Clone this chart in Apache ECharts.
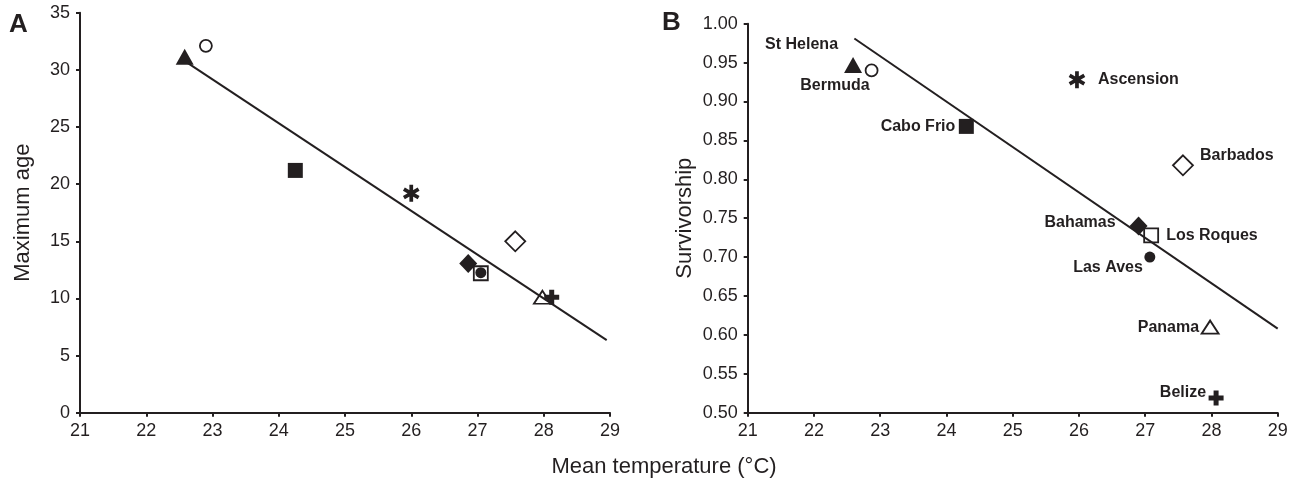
<!DOCTYPE html>
<html><head><meta charset="utf-8">
<script src="https://cdn.jsdelivr.net/npm/echarts@6/dist/echarts.min.js"></script>
<style>html,body{margin:0;padding:0;background:#fff}#c{width:1297px;height:483px}</style>
</head><body><div id="c"></div>
<script>
// ---- data ----
const islands = ['St Helena','Bermuda','Cabo Frio','Ascension','Barbados','Bahamas','Los Roques','Las Aves','Panama','Belize'];
const meanTempA = [22.58, 22.9, 24.25, 26.0, 27.57, 26.86, 27.05, 27.05, 27.98, 28.12];
const maxAge    = [31.15, 32.1, 21.2, 19.2, 15.0, 13.05, 12.2, 12.25, 10.1, 10.1];
const meanTempB = [22.59, 22.87, 24.3, 25.97, 27.57, 26.9, 27.09, 27.07, 27.98, 28.07];
const survivorship = [0.947, 0.94, 0.868, 0.928, 0.818, 0.74, 0.728, 0.70, 0.61, 0.519];
const fitAx = [22.6, 28.95], fitAy = [30.7, 6.35];
const fitBx = [22.61, 29.0], fitBy = [0.981, 0.608];
const xTicks = [21, 29, 1];
const yTicksA = [0, 35, 5];
const yTicksB = [0.5, 1.0, 0.05];

// ---- styles ----
const INK = '#231f20';
const ASTERISK = 'path://M7.8 0 L12.2 0 L12.2 20 L7.8 20 Z M17.56 3.095 L19.76 6.905 L2.44 16.905 L0.24 13.095 Z M19.76 13.095 L17.56 16.905 L0.24 6.905 L2.44 3.095 Z';
const PLUS = 'path://M4 0 L8 0 L8 4 L12 4 L12 8 L8 8 L8 12 L4 12 L4 8 L0 8 L0 4 L4 4 Z';
const markerStyle = {
  'St Helena': {symbol:'triangle', size:[18,16], open:false},
  'Bermuda':   {symbol:'circle', size:12, open:true},
  'Cabo Frio': {symbol:'rect', size:15, open:false},
  'Ascension': {symbol:ASTERISK, size:17, open:false},
  'Barbados':  {symbol:'diamond', size:[20,20], open:true},
  'Bahamas':   {symbol:'diamond', size:[18,19], open:false},
  'Los Roques':{symbol:'rect', size:14, open:true},
  'Las Aves':  {symbol:'circle', size:11, open:false},
  'Panama':    {symbol:'triangle', size:[17,13], open:true},
  'Belize':    {symbol:PLUS, size:15, open:false}
};
const labelPlace = {
  'St Helena': {align:'right', offset:[-15,-20]},
  'Bermuda':   {align:'right', offset:[-2,15]},
  'Cabo Frio': {align:'right', offset:[-11,0]},
  'Ascension': {align:'left',  offset:[21,0]},
  'Barbados':  {align:'left',  offset:[17,-10]},
  'Bahamas':   {align:'right', offset:[-23,-3]},
  'Los Roques':{align:'left',  offset:[15,0]},
  'Las Aves':  {align:'right', offset:[-7,10]},
  'Panama':    {align:'right', offset:[-11,0]},
  'Belize':    {align:'right', offset:[-10,-5]}
};

const FONT = '"Liberation Sans", Arial, sans-serif';
function axisX(gridIndex){
  return {type:'value', gridIndex, min:xTicks[0], max:xTicks[1], interval:xTicks[2],
    splitLine:{show:false},
    axisLine:{show:true, onZero:false, lineStyle:{color:INK, width:2}},
    axisTick:{show:true, inside:false, length:4, lineStyle:{color:INK, width:2}},
    axisLabel:{color:INK, fontSize:18, fontFamily:FONT, margin:9}};
}
function axisY(gridIndex, t, name, gap, dec){
  return {type:'value', gridIndex, min:t[0], max:t[1], interval:t[2],
    name, nameLocation:'middle', nameGap:gap, nameRotate:90,
    nameTextStyle:{color:INK, fontSize:22, fontFamily:FONT},
    splitLine:{show:false},
    axisLine:{show:true, onZero:false, lineStyle:{color:INK, width:2}},
    axisTick:{show:true, inside:false, length:4, lineStyle:{color:INK, width:2}},
    axisLabel:{color:INK, fontSize:18, fontFamily:FONT, margin:10,
      formatter: v => dec ? v.toFixed(dec) : String(v)}};
}

const series = [];
function fitLine(idx, xs, ys){
  series.push({type:'line', xAxisIndex:idx, yAxisIndex:idx, data: xs.map((x,i)=>[x, ys[i]]),
    symbol:'none', lineStyle:{color:INK, width:2, opacity:1}, z:1, silent:true, animation:false});
}
function points(idx, xs, ys, withLabels){
  islands.forEach((name,i)=>{
    const m = markerStyle[name];
    const s = {type:'scatter', name, xAxisIndex:idx, yAxisIndex:idx,
      data:[[xs[i], ys[i]]], symbol:m.symbol, symbolSize:m.size, symbolKeepAspect:true,
      itemStyle: m.open ? {color:'rgba(0,0,0,0)', borderColor:INK, borderWidth:1.8, opacity:1}
                        : {color:INK, borderWidth:0, opacity:1},
      emphasis:{disabled:true},
      z:2, animation:false};
    if (withLabels){
      const p = labelPlace[name];
      s.label = {show:true, position:'inside', align:p.align, verticalAlign:'middle',
        offset:p.offset, formatter:name, color:INK, opacity:1, fontSize:16, fontWeight:'bold',
        fontFamily:FONT, textBorderWidth:0};
    }
    series.push(s);
  });
}
fitLine(0, fitAx, fitAy);
points(0, meanTempA, maxAge, false);
fitLine(1, fitBx, fitBy);
points(1, meanTempB, survivorship, true);

const chart = echarts.init(document.getElementById('c'), null, {renderer:'canvas'});
chart.setOption({
  backgroundColor:'#fff',
  animation:false,
  grid:[
    {left:80, top:12.7, width:530, height:400},
    {left:747.7, top:23.7, width:530, height:389}
  ],
  xAxis:[axisX(0), axisX(1)],
  yAxis:[axisY(0, yTicksA, 'Maximum age', 46, 0), axisY(1, yTicksB, 'Survivorship', 52, 2)],
  graphic:[
    {type:'text', left:9, top:12, style:{text:'A', fill:INK, font:'bold 26px '+FONT}},
    {type:'text', left:662, top:10, style:{text:'B', fill:INK, font:'bold 26px '+FONT}},
    {type:'text', x:664, y:467, style:{text:'Mean temperature (°C)', fill:INK, font:'22px '+FONT, textAlign:'center', textVerticalAlign:'middle'}}
  ],
  series
});
</script></body></html>
